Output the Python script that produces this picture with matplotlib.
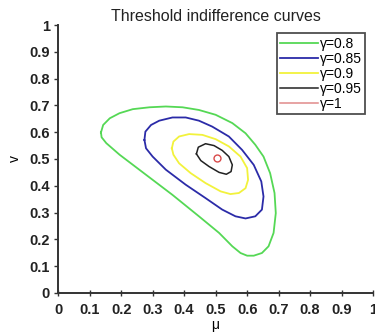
import numpy as np
import matplotlib
matplotlib.use('Agg')
import matplotlib.pyplot as plt

plt.rcParams['font.family'] = ['Liberation Sans', 'DejaVu Sans']

# curves (mu, v), closed loops
green_mu = [0.136, 0.143, 0.164, 0.195, 0.237, 0.290, 0.342, 0.395, 0.447, 0.500, 0.553, 0.595,
            0.626, 0.652, 0.673, 0.687, 0.691, 0.684, 0.668, 0.647, 0.621, 0.600, 0.579, 0.553,
            0.511, 0.447, 0.363, 0.279, 0.195, 0.153, 0.138]
green_v = [0.599, 0.627, 0.652, 0.671, 0.686, 0.693, 0.696, 0.693, 0.683, 0.665, 0.634, 0.596,
           0.553, 0.509, 0.447, 0.373, 0.298, 0.224, 0.174, 0.149, 0.139, 0.139, 0.149, 0.174,
           0.224, 0.286, 0.366, 0.441, 0.516, 0.559, 0.581]

blue_mu = [0.274, 0.277, 0.295, 0.321, 0.363, 0.405, 0.447, 0.489, 0.542, 0.584, 0.621, 0.645,
           0.652, 0.647, 0.626, 0.595, 0.563, 0.521, 0.468, 0.405, 0.342, 0.300, 0.279]
blue_v = [0.571, 0.602, 0.627, 0.643, 0.655, 0.655, 0.643, 0.621, 0.584, 0.534, 0.478, 0.416,
          0.360, 0.311, 0.286, 0.278, 0.286, 0.311, 0.354, 0.404, 0.460, 0.509, 0.540]

yellow_mu = [0.361, 0.366, 0.384, 0.416, 0.458, 0.500, 0.542, 0.579, 0.600, 0.603, 0.595, 0.574,
             0.547, 0.516, 0.468, 0.421, 0.384, 0.366]
yellow_v = [0.540, 0.565, 0.584, 0.593, 0.590, 0.574, 0.547, 0.509, 0.466, 0.422, 0.391, 0.373,
            0.369, 0.379, 0.410, 0.447, 0.484, 0.516]

black_mu = [0.439, 0.445, 0.468, 0.495, 0.521, 0.542, 0.553, 0.549, 0.534, 0.511, 0.479, 0.453]
black_v = [0.519, 0.544, 0.557, 0.550, 0.532, 0.509, 0.478, 0.453, 0.443, 0.450, 0.472, 0.494]

red_mu = [0.505]
red_v = [0.503]

labels = ['γ=0.8', 'γ=0.85', 'γ=0.9', 'γ=0.95', 'γ=1']
ticks = [0, 0.1, 0.2, 0.3, 0.4, 0.5, 0.6, 0.7, 0.8, 0.9, 1]
tick_labels = ['0', '0.1', '0.2', '0.3', '0.4', '0.5', '0.6', '0.7', '0.8', '0.9', '1']


def closed(a):
    return list(a) + [a[0]]


fig = plt.figure(figsize=(3.75, 3.34), dpi=100)
ax = fig.add_axes([0.155, 0.123, 0.84, 0.802])

ax.plot(closed(green_mu), closed(green_v), color='#55d855', lw=1.3, label=labels[0])
ax.plot(closed(blue_mu), closed(blue_v), color='#2b2ba8', lw=1.3, label=labels[1])
ax.plot(closed(yellow_mu), closed(yellow_v), color='#f2f23c', lw=1.3, label=labels[2])
ax.plot(closed(black_mu), closed(black_v), color='#222222', lw=1.1, label=labels[3])
ax.plot(red_mu, red_v, 'o', mfc='none', mec='#d94a4a', ms=5, mew=1.0)
ax.plot([], [], color='#e08a8a', lw=1.1, label=labels[4])

ax.set_xlim(0, 1)
ax.set_ylim(0, 1)
ax.set_xticks(ticks)
ax.set_xticklabels(tick_labels, fontweight='bold', fontsize=10.5)
ax.set_yticks(ticks)
ax.set_yticklabels(tick_labels, fontweight='bold', fontsize=10.5)
ax.tick_params(axis='x', direction='inout', length=4, width=1, colors='#333333', pad=5)
ax.tick_params(axis='y', direction='out', length=3, width=1, colors='#333333', pad=3)
for lab in ax.get_xticklabels() + ax.get_yticklabels():
    lab.set_color('#222222')

for s in ['top', 'right']:
    ax.spines[s].set_visible(False)
for s in ['left', 'bottom']:
    ax.spines[s].set_linewidth(1.4)
    ax.spines[s].set_color('#333333')

ax.set_title('Threshold indifference curves', fontsize=11.5, pad=3, color='#222222')
ax.set_xlabel('μ', fontsize=10, labelpad=1)
ax.set_ylabel('v', fontsize=10, labelpad=5)

leg = ax.legend(loc='upper right', bbox_to_anchor=(0.975, 0.97), fontsize=10, frameon=True,
                fancybox=False, edgecolor='#222222', handlelength=2.7, handletextpad=0.15,
                labelspacing=0.08, borderpad=0.25, borderaxespad=0)
leg.get_frame().set_linewidth(1.3)

fig.savefig('out.png', dpi=100)
